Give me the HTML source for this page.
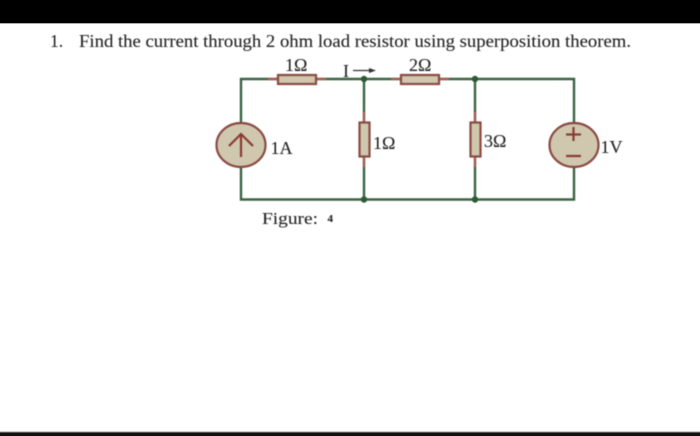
<!DOCTYPE html>
<html>
<head>
<meta charset="utf-8">
<style>
html,body{margin:0;padding:0;background:#fff;}
body{width:700px;height:436px;overflow:hidden;}
svg{display:block;}
text{font-family:"Liberation Serif",serif;fill:#222;stroke:#222;stroke-width:.1px;}
</style>
</head>
<body>
<svg width="700" height="436" viewBox="0 0 700 436" xmlns="http://www.w3.org/2000/svg">
<rect width="700" height="436" fill="#fff"/>
<rect x="0" y="0" width="700" height="23" fill="#000"/>
<rect x="0" y="23" width="700" height="1" fill="#aaa"/>
<rect x="0" y="432" width="700" height="4" fill="#111"/>
<rect x="0" y="431.500" width="700" height="1" fill="#999"/>

<g style="filter:blur(.45px)">
<text x="50" y="47" font-size="17.500">1.</text>
<text x="79" y="47" font-size="17.500" textLength="552" lengthAdjust="spacingAndGlyphs">Find the current through 2 ohm load resistor using superposition theorem.</text>

<g fill="none" stroke="#3a6242" stroke-width="2.400">
<polyline points="241,123 241,79 574,79 574,123"/>
<polyline points="241,167 241,199.500 574,199.500 574,167"/>
<line x1="364" y1="79" x2="364" y2="199.500"/>
<line x1="475" y1="79" x2="475" y2="199.500"/>
</g>
<g fill="none" stroke="#a85a52" stroke-width="2.200">
<line x1="268" y1="79" x2="326" y2="79"/>
<line x1="391" y1="79" x2="449" y2="79"/>
<line x1="364" y1="112" x2="364" y2="167"/>
<line x1="475" y1="112" x2="475" y2="167"/>
</g>
<g fill="#cfc8ae" stroke="#8a4a42" stroke-width="2.200">
<rect x="278" y="75" width="38" height="9"/>
<rect x="401" y="75" width="38" height="9"/>
<rect x="359.500" y="122.500" width="10" height="34"/>
<rect x="470.500" y="122.500" width="10" height="34"/>
<ellipse cx="241" cy="145" rx="24.500" ry="22"/>
<ellipse cx="574" cy="145" rx="24.500" ry="22"/>
</g>
<g fill="none" stroke="#8a3a34" stroke-width="2.200">
<line x1="241" y1="157" x2="241" y2="134"/>
<polyline points="229,146 241,134 253,146"/>
<line x1="566" y1="134.500" x2="581" y2="134.500"/>
<line x1="573.500" y1="127" x2="573.500" y2="141"/>
<line x1="566" y1="156" x2="581" y2="156"/>
</g>
<g fill="#2c5a36">
<circle cx="364" cy="79" r="3.200"/>
<circle cx="475" cy="79" r="3.200"/>
<circle cx="364" cy="199.500" r="3.200"/>
<circle cx="475" cy="199.500" r="3.200"/>
</g>
<line x1="353" y1="70.500" x2="371" y2="70.500" stroke="#333" stroke-width="1.200"/>
<polygon points="376,70.500 369,68 369,73" fill="#333"/>

<text x="285" y="71" font-size="18">1Ω</text>
<text x="409" y="71" font-size="18">2Ω</text>
<text x="343" y="77" font-size="18">I</text>
<text x="270.500" y="154" font-size="18">1A</text>
<text x="373" y="149" font-size="18">1Ω</text>
<text x="484" y="147" font-size="18">3Ω</text>
<text x="600.500" y="153" font-size="18">1V</text>
<text x="262" y="224" font-size="17" textLength="56" lengthAdjust="spacingAndGlyphs">Figure:</text>
<text x="327.500" y="222" font-size="11" font-weight="bold">4</text>
</g>
</svg>
</body>
</html>
